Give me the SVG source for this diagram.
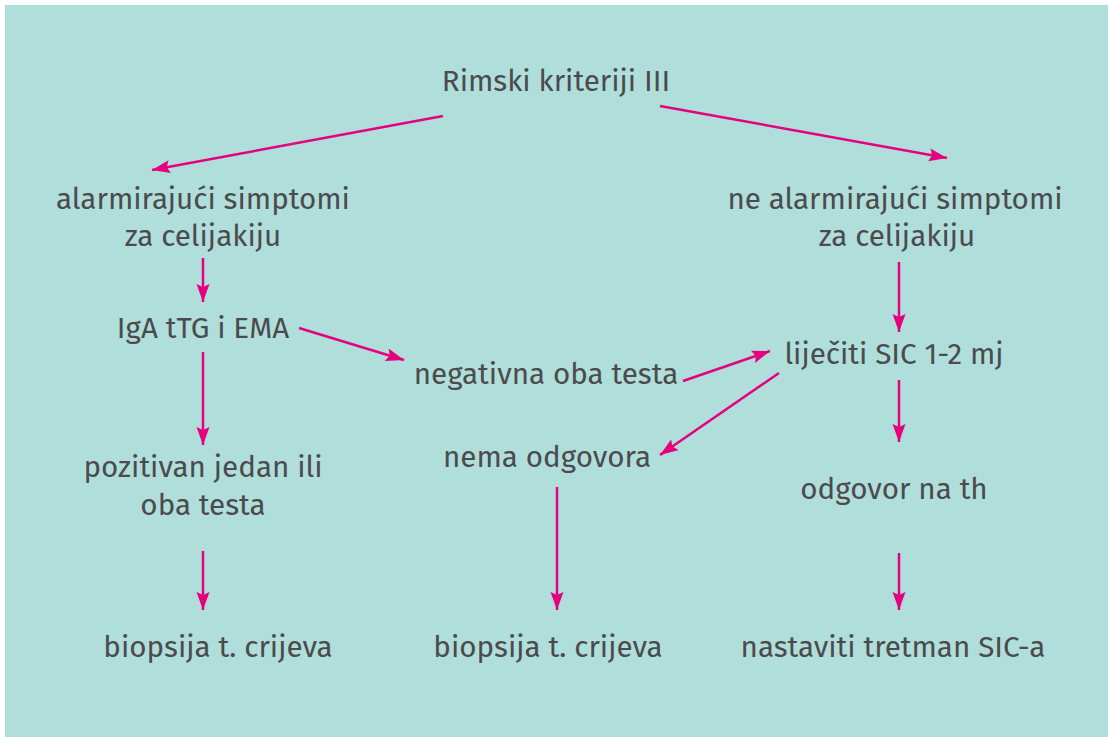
<svg xmlns="http://www.w3.org/2000/svg" width="1108" height="737" viewBox="0 0 1108 737">
<defs>
<style>
text{font-family:"Fira Sans","Noto Sans","Open Sans","Liberation Sans",sans-serif;font-size:29.6px;fill:#4b4b4d;text-anchor:middle}
.c line{stroke:#e6007e;stroke-width:2.5;marker-end:url(#ah)}
</style>
<marker id="ah" markerUnits="userSpaceOnUse" markerWidth="20" markerHeight="14" refX="18" refY="6.5" orient="auto" viewBox="0 0 20 14">
<path d="M0,0 L18,6.5 L0,13 L3,6.5 z" fill="#e6007e"/>
</marker>
</defs>
<rect width="1108" height="737" fill="#ffffff"/>
<rect x="5" y="5" width="1103" height="732" fill="#b0dedb"/>
<g class="c">
<line x1="443" y1="116" x2="152" y2="170"/>
<line x1="660" y1="106" x2="947" y2="158"/>
<line x1="203" y1="258" x2="203" y2="302"/>
<line x1="299" y1="328" x2="404" y2="360"/>
<line x1="203" y1="352" x2="203" y2="445"/>
<line x1="683" y1="381" x2="770" y2="351"/>
<line x1="899" y1="262" x2="899" y2="332"/>
<line x1="779" y1="373" x2="660" y2="455"/>
<line x1="899" y1="380" x2="899" y2="442"/>
<line x1="203" y1="551" x2="203" y2="610"/>
<line x1="557" y1="487" x2="557" y2="610"/>
<line x1="899" y1="553" x2="899" y2="610"/>
</g>
<g id="n1"><text x="556" y="91">Rimski kriteriji III</text></g>
<g id="n2"><text x="203" y="209">alarmirajući simptomi</text><text x="203" y="246">za celijakiju</text></g>
<g id="n3"><text x="895" y="209">ne alarmirajući simptomi</text><text x="897" y="246">za celijakiju</text></g>
<g id="n4"><text x="203" y="338">IgA tTG i EMA</text></g>
<g id="n5"><text x="546" y="384">negativna oba testa</text></g>
<g id="n6"><text x="894" y="364">liječiti SIC 1-2 mj</text></g>
<g id="n7"><text x="547" y="467">nema odgovora</text></g>
<g id="n8"><text x="203" y="477">pozitivan jedan ili</text><text x="203" y="515">oba testa</text></g>
<g id="n9"><text x="894" y="499">odgovor na th</text></g>
<g id="n10"><text x="218" y="657">biopsija t. crijeva</text></g>
<g id="n11"><text x="548" y="657">biopsija t. crijeva</text></g>
<g id="n12"><text x="893" y="657">nastaviti tretman SIC-a</text></g>
</svg>
